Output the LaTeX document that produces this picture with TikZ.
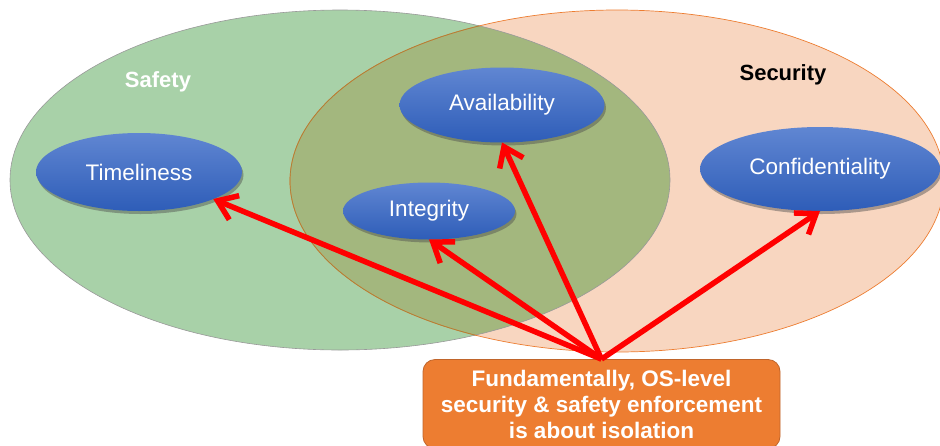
\documentclass[tikz,border=0pt]{standalone}
\usepackage{fontspec}
\setmainfont{Liberation Sans}
\usetikzlibrary{shapes.geometric,shadows,arrows.meta}
\definecolor{safegreen}{HTML}{A8D1A8}
\definecolor{secpeach}{HTML}{F8D6C0}
\definecolor{overlapolive}{HTML}{A3B77E}
\definecolor{secorange}{HTML}{ED7D31}
\definecolor{olivedge}{HTML}{A9823A}
\definecolor{bluetop}{HTML}{6086D2}
\definecolor{bluebot}{HTML}{2E5DB8}
\definecolor{boxedge}{HTML}{C0652B}
\begin{document}
\begin{tikzpicture}[x=1pt,y=-1pt,
  prop/.style={ellipse, top color=bluetop, bottom color=bluebot, inner sep=0pt, outer sep=0pt,
    text=white, font=\fontsize{22.5}{26}\selectfont,
    drop shadow={shadow xshift=1.5pt, shadow yshift=-3pt, opacity=0.45, fill=black!70}},
  arr/.style={draw=red, line width=5.5pt, -{Straight Barb[length=18pt,width=26pt]}},
  setlabel/.style={font=\bfseries\fontsize{22}{26}\selectfont},
  isobox/.style={draw=boxedge, line width=0.8pt, fill=secorange, rounded corners=12pt,
    minimum width=357pt, minimum height=89pt, text=white, align=center,
    font=\bfseries\fontsize{22.5}{26}\selectfont}
]
\useasboundingbox (0,0) rectangle (940,445);
\fill[white] (0,0) rectangle (940,445);
% background sets
\fill[safegreen] (340,180) ellipse [x radius=330pt, y radius=170pt];
\fill[secpeach] (617,181) ellipse [x radius=327pt, y radius=171pt];
\begin{scope}
  \clip (340,180) ellipse [x radius=330pt, y radius=170pt];
  \fill[overlapolive] (617,181) ellipse [x radius=327pt, y radius=171pt];
\end{scope}
\draw[gray!80, line width=0.6pt] (340,180) ellipse [x radius=330pt, y radius=170pt];
\draw[secorange, line width=0.7pt] (617,181) ellipse [x radius=327pt, y radius=171pt];
\begin{scope}
  \clip (340,180) ellipse [x radius=330pt, y radius=170pt];
  \draw[olivedge, line width=0.7pt] (617,181) ellipse [x radius=327pt, y radius=171pt];
\end{scope}
% labels
\node[setlabel, text=white] (safety) at (158,82) {Safety};
\node[setlabel, text=black] (security) at (783,75) {Security};
% properties
\node[prop, minimum width=206pt, minimum height=78pt] (tim) at (139,172) {Timeliness};
\node[prop, minimum width=205pt, minimum height=75pt] (avail) at (502,105) {Availability};
\node[prop, minimum width=172pt, minimum height=57pt] (integ) at (429,211) {Integrity};
\node[prop, minimum width=240pt, minimum height=84pt] (conf) at (820,169) {Confidentiality};
% box
\node[isobox] (iso) at (601.5,404) {Fundamentally, OS-level\\security \& safety enforcement\\is about isolation};
% arrows
\draw[arr] (iso.north) -- (tim.-20);
\draw[arr] (iso.north) -- (integ.south);
\draw[arr] (iso.north) -- (avail.south);
\draw[arr] (iso.north) -- (conf.south);
\end{tikzpicture}
\end{document}
